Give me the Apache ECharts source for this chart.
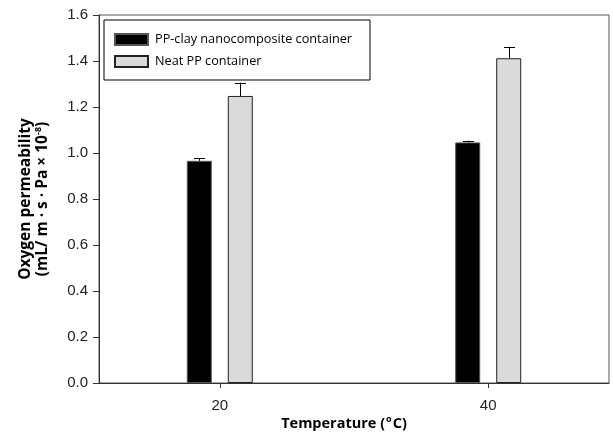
<!DOCTYPE html>
<html>
<head>
<meta charset="utf-8">
<script src="https://cdn.jsdelivr.net/npm/echarts@6/dist/echarts.min.js"></script>
<style>
  html, body { margin: 0; padding: 0; background: #fff; }
  #chart { width: 613px; height: 433px; }
</style>
</head>
<body>
<div id="chart"></div>
<script>
// ---- data ----
const categories = [20, 40];
const seriesNames = ['PP-clay nanocomposite container', 'Neat PP container'];
const ppClay = [0.966, 1.046];
const ppClayErr = [0.012, 0.008];
const neatPP = [1.248, 1.412];
const neatPPErr = [0.058, 0.050];
const yTicks = [0, 0.2, 0.4, 0.6, 0.8, 1.0, 1.2, 1.4, 1.6];

// ---- layout / style ----
const BAR_W = 25;
const BAR_GAP_PX = 16;
const OFFSET = (BAR_W + BAR_GAP_PX) / 2;
const axisColor = '#333';

function pairs(vals, errs) {
  return categories.map((c, i) => errs ? [c, vals[i], errs[i]] : [c, vals[i]]);
}

function errRenderer(offset) {
  return function (params, api) {
    const x = api.value(0), y = api.value(1), e = api.value(2);
    const p0 = api.coord([x, y]);
    const p1 = api.coord([x, y + e]);
    const cx = Math.round(p0[0] + offset) + 0.5;
    const capHalf = 5.5;
    return {
      type: 'group',
      children: [
        { type: 'line', shape: { x1: cx, y1: p0[1], x2: cx, y2: p1[1] },
          style: { stroke: '#000', lineWidth: 1 } },
        { type: 'line', shape: { x1: cx - capHalf, y1: Math.round(p1[1]) + 0.5, x2: cx + capHalf, y2: Math.round(p1[1]) + 0.5 },
          style: { stroke: '#000', lineWidth: 1 } }
      ]
    };
  };
}

const chart = echarts.init(document.getElementById('chart'), null, { renderer: 'canvas' });
chart.setOption({
  animation: false,
  backgroundColor: '#fff',
  grid: {
    left: 99, right: 4, top: 15, bottom: 50,
    outerBoundsMode: 'none',
    containLabel: false,
    show: true, borderColor: '#555', borderWidth: 1, backgroundColor: 'transparent'
  },
  legend: {
    data: seriesNames,
    orient: 'vertical',
    left: 104, top: 20,
    itemWidth: 33, itemHeight: 11,
    itemGap: 9,
    padding: [13, 18, 12, 10],
    borderColor: '#000', borderWidth: 1,
    icon: 'rect',
    textStyle: { fontFamily: 'Open Sans', fontSize: 12.7, color: '#000', padding: [0, 0, 0, 2] }
  },
  xAxis: {
    type: 'value',
    min: 11, max: 49,
    name: 'Temperature ({sup|o}C)',
    nameLocation: 'middle',
    nameMoveOverlap: false,
    nameGap: 32,
    nameTextStyle: {
      fontFamily: 'Open Sans', fontWeight: 'bold', fontSize: 14.5, color: '#000', lineHeight: 18,
      padding: [0, 20, 0, 0],
      rich: { sup: { fontFamily: 'Open Sans', fontWeight: 'bold', fontSize: 9, color: '#000', verticalAlign: 'top', lineHeight: 18, padding: [0, 1, 6, 1] } }
    },
    axisLine: { show: true, lineStyle: { color: axisColor, width: 1 } },
    axisTick: { show: true, length: 5, customValues: categories, lineStyle: { color: axisColor } },
    axisLabel: { customValues: categories, fontFamily: 'Liberation Sans', fontSize: 15, color: '#222', margin: 15 },
    splitLine: { show: false }
  },
  yAxis: {
    type: 'value',
    min: yTicks[0], max: yTicks[yTicks.length - 1], interval: 0.2,
    name: 'Oxygen permeability\n(mL/ m · s · Pa × 10{sup|-8})',
    nameLocation: 'middle',
    nameMoveOverlap: false,
    nameRotate: 90,
    nameGap: 48,
    nameTextStyle: {
      fontFamily: 'Open Sans', fontWeight: 'bold', fontSize: 15.5, color: '#000', lineHeight: 17,
      rich: { sup: { fontFamily: 'Open Sans', fontWeight: 'bold', fontSize: 9, color: '#000', verticalAlign: 'top', lineHeight: 17, padding: [0, 0, 6, 0] } }
    },
    axisLine: { show: true, lineStyle: { color: axisColor, width: 1 } },
    axisTick: { show: true, length: 6, lineStyle: { color: axisColor } },
    axisLabel: { fontFamily: 'Liberation Sans', fontSize: 15, color: '#222', margin: 11,
      formatter: v => v.toFixed(1) },
    splitLine: { show: false }
  },
  series: [
    {
      name: seriesNames[0], type: 'bar',
      data: pairs(ppClay),
      barWidth: BAR_W, barGap: (BAR_GAP_PX / BAR_W * 100) + '%',
      itemStyle: { color: '#000', borderColor: '#555', borderWidth: 1 }
    },
    {
      name: seriesNames[1], type: 'bar',
      data: pairs(neatPP),
      barWidth: BAR_W,
      itemStyle: { color: '#dadada', borderColor: '#222', borderWidth: 1 }
    },
    {
      name: 'err1', type: 'custom', clip: false, z: 5,
      data: pairs(ppClay, ppClayErr),
      renderItem: errRenderer(-OFFSET)
    },
    {
      name: 'err2', type: 'custom', clip: false, z: 5,
      data: pairs(neatPP, neatPPErr),
      renderItem: errRenderer(OFFSET)
    }
  ]
});
</script>
</body>
</html>
